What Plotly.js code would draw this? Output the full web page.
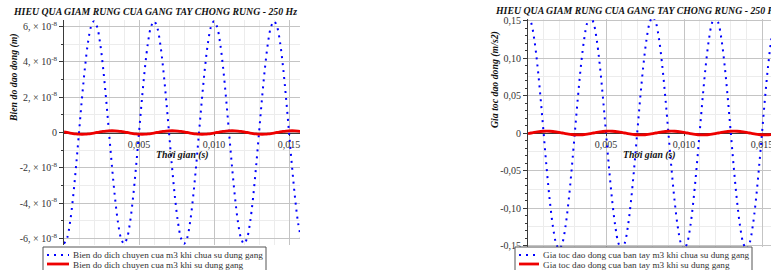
<!DOCTYPE html>
<html><head><meta charset="utf-8">
<script src="https://cdn.plot.ly/plotly-3.0.1.min.js"></script>
<style>html,body{margin:0;padding:0;background:#fff;}#chart{width:771px;height:270px;}</style>
</head><body><div id="chart"></div>
<script>
// ---- data (time in s) ----
const time = [0,0.0002,0.0004,0.0006,0.0008,0.0010,0.0012,0.0014,0.0016,0.0018,
  0.0020,0.0022,0.0024,0.0026,0.0028,0.0030,0.0032,0.0034,0.0036,0.0038,
  0.0040,0.0042,0.0044,0.0046,0.0048,0.0050,0.0052,0.0054,0.0056,0.0058,
  0.0060,0.0062,0.0064,0.0066,0.0068,0.0070,0.0072,0.0074,0.0076,0.0078,
  0.0080,0.0082,0.0084,0.0086,0.0088,0.0090,0.0092,0.0094,0.0096,0.0098,
  0.0100,0.0102,0.0104,0.0106,0.0108,0.0110,0.0112,0.0114,0.0116,0.0118,
  0.0120,0.0122,0.0124,0.0126,0.0128,0.0130,0.0132,0.0134,0.0136,0.0138,
  0.0140,0.0142,0.0144,0.0146,0.0148,0.0150,0.0152,0.0154,0.0156,0.0158];
// displacement without glove (m)
const dispWithout = [-6.3e-8,-5.99e-8,-5.10e-8,-3.70e-8,-1.95e-8,0,1.95e-8,3.70e-8,5.10e-8,5.99e-8,
  6.3e-8,5.99e-8,5.10e-8,3.70e-8,1.95e-8,0,-1.95e-8,-3.70e-8,-5.10e-8,-5.99e-8,
  -6.3e-8,-5.99e-8,-5.10e-8,-3.70e-8,-1.95e-8,0,1.95e-8,3.70e-8,5.10e-8,5.99e-8,
  6.3e-8,5.99e-8,5.10e-8,3.70e-8,1.95e-8,0,-1.95e-8,-3.70e-8,-5.10e-8,-5.99e-8,
  -6.3e-8,-5.99e-8,-5.10e-8,-3.70e-8,-1.95e-8,0,1.95e-8,3.70e-8,5.10e-8,5.99e-8,
  6.3e-8,5.99e-8,5.10e-8,3.70e-8,1.95e-8,0,-1.95e-8,-3.70e-8,-5.10e-8,-5.99e-8,
  -6.3e-8,-5.99e-8,-5.10e-8,-3.70e-8,-1.95e-8,0,1.95e-8,3.70e-8,5.10e-8,5.99e-8,
  6.3e-8,5.99e-8,5.10e-8,3.70e-8,1.95e-8,0,-1.95e-8,-3.70e-8,-5.10e-8,-5.99e-8];
// displacement with glove (m)
const dispWith = [3.1e-10,0,-3.1e-10,-5.9e-10,-8.1e-10,-9.5e-10,-1.0e-9,-9.5e-10,-8.1e-10,-5.9e-10,
  -3.1e-10,0,3.1e-10,5.9e-10,8.1e-10,9.5e-10,1.0e-9,9.5e-10,8.1e-10,5.9e-10,
  3.1e-10,0,-3.1e-10,-5.9e-10,-8.1e-10,-9.5e-10,-1.0e-9,-9.5e-10,-8.1e-10,-5.9e-10,
  -3.1e-10,0,3.1e-10,5.9e-10,8.1e-10,9.5e-10,1.0e-9,9.5e-10,8.1e-10,5.9e-10,
  3.1e-10,0,-3.1e-10,-5.9e-10,-8.1e-10,-9.5e-10,-1.0e-9,-9.5e-10,-8.1e-10,-5.9e-10,
  -3.1e-10,0,3.1e-10,5.9e-10,8.1e-10,9.5e-10,1.0e-9,9.5e-10,8.1e-10,5.9e-10,
  3.1e-10,0,-3.1e-10,-5.9e-10,-8.1e-10,-9.5e-10,-1.0e-9,-9.5e-10,-8.1e-10,-5.9e-10,
  -3.1e-10,0,3.1e-10,5.9e-10,8.1e-10,9.5e-10,1.0e-9,9.5e-10,8.1e-10,5.9e-10];
// acceleration without glove (m/s2)
const accWithout = [0.155,0.147,0.125,0.091,0.048,0,-0.048,-0.091,-0.125,-0.147,
  -0.155,-0.147,-0.125,-0.091,-0.048,0,0.048,0.091,0.125,0.147,
  0.155,0.147,0.125,0.091,0.048,0,-0.048,-0.091,-0.125,-0.147,
  -0.155,-0.147,-0.125,-0.091,-0.048,0,0.048,0.091,0.125,0.147,
  0.155,0.147,0.125,0.091,0.048,0,-0.048,-0.091,-0.125,-0.147,
  -0.155,-0.147,-0.125,-0.091,-0.048,0,0.048,0.091,0.125,0.147,
  0.155,0.147,0.125,0.091,0.048,0,-0.048,-0.091,-0.125,-0.147,
  -0.155,-0.147,-0.125,-0.091,-0.048,0,0.048,0.091,0.125,0.147];
// acceleration with glove (m/s2)
const accWith = [-0.00076,0,0.00076,0.00145,0.0020,0.00234,0.0025,0.00234,0.0020,0.00145,
  0.00076,0,-0.00076,-0.00145,-0.0020,-0.00234,-0.0025,-0.00234,-0.0020,-0.00145,
  -0.00076,0,0.00076,0.00145,0.0020,0.00234,0.0025,0.00234,0.0020,0.00145,
  0.00076,0,-0.00076,-0.00145,-0.0020,-0.00234,-0.0025,-0.00234,-0.0020,-0.00145,
  -0.00076,0,0.00076,0.00145,0.0020,0.00234,0.0025,0.00234,0.0020,0.00145,
  0.00076,0,-0.00076,-0.00145,-0.0020,-0.00234,-0.0025,-0.00234,-0.0020,-0.00145,
  -0.00076,0,0.00076,0.00145,0.0020,0.00234,0.0025,0.00234,0.0020,0.00145,
  0.00076,0,-0.00076,-0.00145,-0.0020,-0.00234,-0.0025,-0.00234,-0.0020,-0.00145];

// ---- texts / ticks ----
const chartTitle = 'HIEU QUA GIAM RUNG CUA GANG TAY CHONG RUNG - 250 Hz';
const xTitle = 'Thời gian (s)';
const dispYTitle = 'Bien do dao dong (m)';
const accYTitle = 'Gia toc dao dong (m/s2)';
const dispNames = ['Bien do dich chuyen cua m3 khi chua su dung gang', 'Bien do dich chuyen cua m3 khi su dung gang'];
const accNames = ['Gia toc dao dong cua ban tay m3 khi chua su dung gang', 'Gia toc dao dong cua ban tay m3 khi su dung gang'];
const xTickVals = [0.005, 0.010, 0.015];
const xTickText = ['0,005', '0,010', '0,015'];
const dispTickVals = [-6e-8, -4e-8, -2e-8, 0, 2e-8, 4e-8, 6e-8];
const dispTickText = ['-6, × 10<sup>-8</sup>', '-4, × 10<sup>-8</sup>', '-2, × 10<sup>-8</sup>', '0',
  '2, × 10<sup>-8</sup>', '4, × 10<sup>-8</sup>', '6, × 10<sup>-8</sup>'];
const accTickVals = [-0.15, -0.10, -0.05, 0, 0.05, 0.10, 0.15];
const accTickText = ['-0,15', '-0,10', '-0,05', '0', '0,05', '0,10', '0,15'];

// ---- layout helpers ----
const W = 771, H = 270;
const px = v => v / W, py = v => 1 - v / H;
const SERIF = 'Liberation Serif, Times New Roman, serif';
const BLUE = '#0000ff', RED = '#ee0000';
const AX = '#3a3a3a', GRID = '#c4c4c4', MGRID = '#ececec';

const dispDom = [py(245), py(20)];
const accDom = [py(247), py(19)];

function xAxis(dom, range, yDom) {
  return {
    domain: dom, range: range, anchor: 'free', position: (yDom[0] + yDom[1]) / 2,
    tickmode: 'array', tickvals: xTickVals, ticktext: xTickText,
    showgrid: true, gridcolor: GRID, gridwidth: 1,
    minor: {dtick: 0.001, tick0: 0, showgrid: true, gridcolor: MGRID, ticks: ''},
    showline: true, linecolor: AX, linewidth: 1, zeroline: false,
    ticks: 'outside', ticklen: 2, tickcolor: AX,
    tickfont: {family: SERIF, size: 10, color: '#333'},
    ticklabeloverflow: 'allow', layer: 'below traces', fixedrange: true
  };
}

const dotDash = '2px,5px';
const traces = [
  {x: time, y: dispWithout, xaxis: 'x', yaxis: 'y', name: dispNames[0], mode: 'lines',
   line: {color: BLUE, width: 2, dash: dotDash, shape: 'spline'}, showlegend: false},
  {x: time, y: dispWith, xaxis: 'x', yaxis: 'y', name: dispNames[1], mode: 'lines',
   line: {color: RED, width: 2.8, shape: 'spline'}, showlegend: false},
  {x: time, y: accWithout, xaxis: 'x2', yaxis: 'y2', name: accNames[0], mode: 'lines',
   line: {color: BLUE, width: 2, dash: dotDash, shape: 'spline'}, showlegend: false},
  {x: time, y: accWith, xaxis: 'x2', yaxis: 'y2', name: accNames[1], mode: 'lines',
   line: {color: RED, width: 2.8, shape: 'spline'}, showlegend: false},
  {x: [], y: [], xaxis: 'x2', yaxis: 'y3', showlegend: false, hoverinfo: 'skip'}
];

const annFont = {family: SERIF, size: 9.8, color: '#111', weight: 'bold', style: 'italic'};
const legFont = {family: SERIF, size: 9.2, color: '#333'};

const layout = {
  width: W, height: H, margin: {l: 0, r: 0, t: 0, b: 0},
  paper_bgcolor: '#fff', plot_bgcolor: 'rgba(0,0,0,0)', showlegend: false,
  xaxis: xAxis([px(64), px(300)], [0, 0.01573], dispDom),
  yaxis: {
    domain: dispDom, range: [-6.37e-8, 6.37e-8], anchor: 'x',
    tickmode: 'array', tickvals: dispTickVals, ticktext: dispTickText,
    showgrid: true, gridcolor: GRID, zeroline: false,
    minor: {dtick: 1e-8, tick0: 0, showgrid: true, gridcolor: MGRID, ticks: 'outside', ticklen: 2, tickcolor: AX},
    showline: true, linecolor: AX, linewidth: 1,
    ticks: 'outside', ticklen: 4, tickcolor: AX,
    tickfont: {family: SERIF, size: 10, color: '#333'}, fixedrange: true
  },
  xaxis2: xAxis([px(528), 1], [0, 0.015577], accDom),
  yaxis2: {
    domain: accDom, range: [-0.152, 0.152], anchor: 'x2',
    tickmode: 'array', tickvals: accTickVals, ticktext: accTickText,
    showgrid: true, gridcolor: GRID, zeroline: false,
    minor: {tickmode: 'array', tickvals: [-0.125, -0.075, -0.025, 0.025, 0.075, 0.125], showgrid: true, gridcolor: MGRID, ticks: ''},
    showline: true, linecolor: AX, linewidth: 1,
    ticks: 'outside', ticklen: 4, tickcolor: AX,
    tickfont: {family: SERIF, size: 10, color: '#333'}, fixedrange: true
  },
  yaxis3: {
    overlaying: 'y2', anchor: 'x2', range: [-0.152, 0.152], side: 'left',
    dtick: 0.01, tick0: 0, showgrid: false, zeroline: false, showline: false,
    showticklabels: false, ticks: 'outside', ticklen: 2, tickcolor: AX, fixedrange: true
  },
  annotations: [
    {text: chartTitle, xref: 'paper', yref: 'paper', x: px(155), y: py(11), xanchor: 'center', yanchor: 'middle', showarrow: false, font: annFont},
    {text: chartTitle, xref: 'paper', yref: 'paper', x: px(493), y: py(10.5), xanchor: 'left', yanchor: 'middle', showarrow: false, font: annFont},
    {text: dispYTitle, xref: 'paper', yref: 'paper', x: px(14), y: py(78), xanchor: 'center', yanchor: 'middle', textangle: -90, showarrow: false, font: annFont},
    {text: accYTitle, xref: 'paper', yref: 'paper', x: px(495), y: py(80), xanchor: 'center', yanchor: 'middle', textangle: -90, showarrow: false, font: annFont},
    {text: xTitle, xref: 'x domain', yref: 'paper', x: 0.5, y: py(155), xanchor: 'center', yanchor: 'middle', showarrow: false, font: annFont},
    {text: xTitle, xref: 'x2 domain', yref: 'paper', x: 0.5, y: py(155), xanchor: 'center', yanchor: 'middle', showarrow: false, font: annFont},
    // legends (text)
    {text: dispNames[0], xref: 'paper', yref: 'paper', x: px(71), y: py(255), xanchor: 'left', yanchor: 'middle', showarrow: false, font: legFont},
    {text: dispNames[1], xref: 'paper', yref: 'paper', x: px(71), y: py(265), xanchor: 'left', yanchor: 'middle', showarrow: false, font: legFont},
    {text: accNames[0], xref: 'paper', yref: 'paper', x: px(541), y: py(255), xanchor: 'left', yanchor: 'middle', showarrow: false, font: legFont},
    {text: accNames[1], xref: 'paper', yref: 'paper', x: px(541), y: py(265), xanchor: 'left', yanchor: 'middle', showarrow: false, font: legFont}
  ],
  shapes: [
    {type: 'rect', xref: 'paper', yref: 'paper', x0: px(43), x1: px(266), y0: py(285), y1: py(247), line: {color: '#555', width: 1}, fillcolor: '#fff', layer: 'above'},
    {type: 'rect', xref: 'paper', yref: 'paper', x0: px(515), x1: px(752), y0: py(285), y1: py(247), line: {color: '#555', width: 1}, fillcolor: '#fff', layer: 'above'},
    {type: 'line', xref: 'paper', yref: 'paper', x0: px(47), x1: px(69), y0: py(255), y1: py(255), line: {color: BLUE, width: 2, dash: dotDash}},
    {type: 'line', xref: 'paper', yref: 'paper', x0: px(47), x1: px(69), y0: py(264), y1: py(264), line: {color: RED, width: 2.8}},
    {type: 'line', xref: 'paper', yref: 'paper', x0: px(519), x1: px(539), y0: py(255), y1: py(255), line: {color: BLUE, width: 2, dash: dotDash}},
    {type: 'line', xref: 'paper', yref: 'paper', x0: px(519), x1: px(539), y0: py(264), y1: py(264), line: {color: RED, width: 2.8}}
  ]
};

Plotly.newPlot('chart', traces, layout, {staticPlot: true, displayModeBar: false});
</script>
</body></html>
